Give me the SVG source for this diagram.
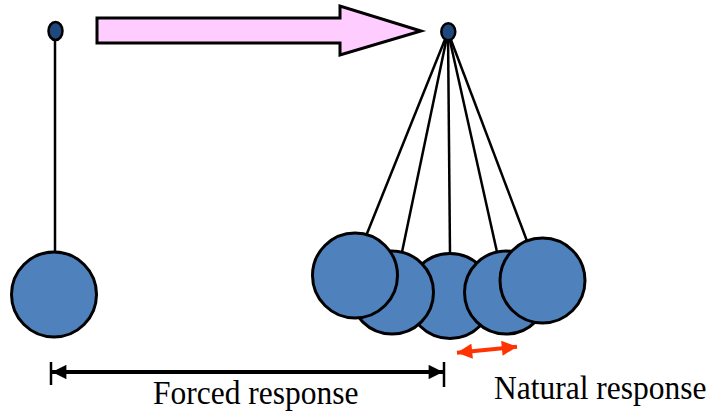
<svg xmlns="http://www.w3.org/2000/svg" width="712" height="414" viewBox="0 0 712 414">
<style>
.str{stroke:#000;stroke-width:2.5;fill:none}
.ball{fill:#4F81BD;stroke:#000;stroke-width:3}
.piv{fill:#1F497D;stroke:#000;stroke-width:2.5}
.lbl{font-family:"Liberation Serif","Times New Roman",serif;font-size:31.5px;fill:#000}
</style>
<defs>
<marker id="ah" viewBox="0 0 10 10" refX="10" refY="5" markerWidth="4" markerHeight="3.6" orient="auto-start-reverse" markerUnits="strokeWidth">
<path d="M0,0 L10,5 L0,10 Z" fill="#000"/>
</marker>
<marker id="ahr" viewBox="0 0 10 10" refX="10" refY="5" markerWidth="4" markerHeight="3.8" orient="auto-start-reverse" markerUnits="strokeWidth">
<path d="M0,0 L10,5 L0,10 Z" fill="#FF3300"/>
</marker>
</defs>
<g id="left-pendulum">
<line class="str" x1="55" y1="38" x2="55" y2="253"/>
<circle class="ball" cx="54" cy="294.5" r="42.5"/>
<ellipse class="piv" cx="55.5" cy="31" rx="7" ry="9"/>
</g>
<g id="big-arrow">
<path d="M97,18 L340,18 L340,6 L421,31 L340,55 L340,43 L97,43 Z" fill="#FFCCFF" stroke="#000" stroke-width="3"/>
</g>
<g id="right-pendulum">
<line class="str" x1="448" y1="32" x2="366" y2="236"/>
<line class="str" x1="448" y1="32" x2="402" y2="252"/>
<line class="str" x1="448" y1="32" x2="450" y2="254"/>
<line class="str" x1="448" y1="32" x2="497" y2="252"/>
<line class="str" x1="448" y1="32" x2="527" y2="241"/>
<circle class="ball" cx="450" cy="296" r="42.5"/>
<circle class="ball" cx="392" cy="292.5" r="41.5"/>
<circle class="ball" cx="506" cy="292.5" r="41.5"/>
<circle class="ball" cx="355" cy="275.5" r="42.5"/>
<circle class="ball" cx="542.5" cy="280.5" r="42.5"/>
<ellipse class="piv" cx="448.3" cy="31.7" rx="7" ry="8.5"/>
</g>
<g id="connectors">
<line x1="51" y1="362" x2="51" y2="385" stroke="#000" stroke-width="2.5"/>
<line x1="444" y1="362" x2="444" y2="387" stroke="#000" stroke-width="2.5"/>
<line x1="52" y1="372" x2="443" y2="372" stroke="#000" stroke-width="4" marker-start="url(#ah)" marker-end="url(#ah)"/>
<line x1="457" y1="352.7" x2="517" y2="346.7" stroke="#FF3300" stroke-width="4" marker-start="url(#ahr)" marker-end="url(#ahr)"/>
</g>
<g id="labels">
<text class="lbl" transform="translate(153,404) scale(1,1.1)">Forced response</text>
<text class="lbl" transform="translate(494,399) scale(1,1.1)">Natural response</text>
</g>
</svg>
